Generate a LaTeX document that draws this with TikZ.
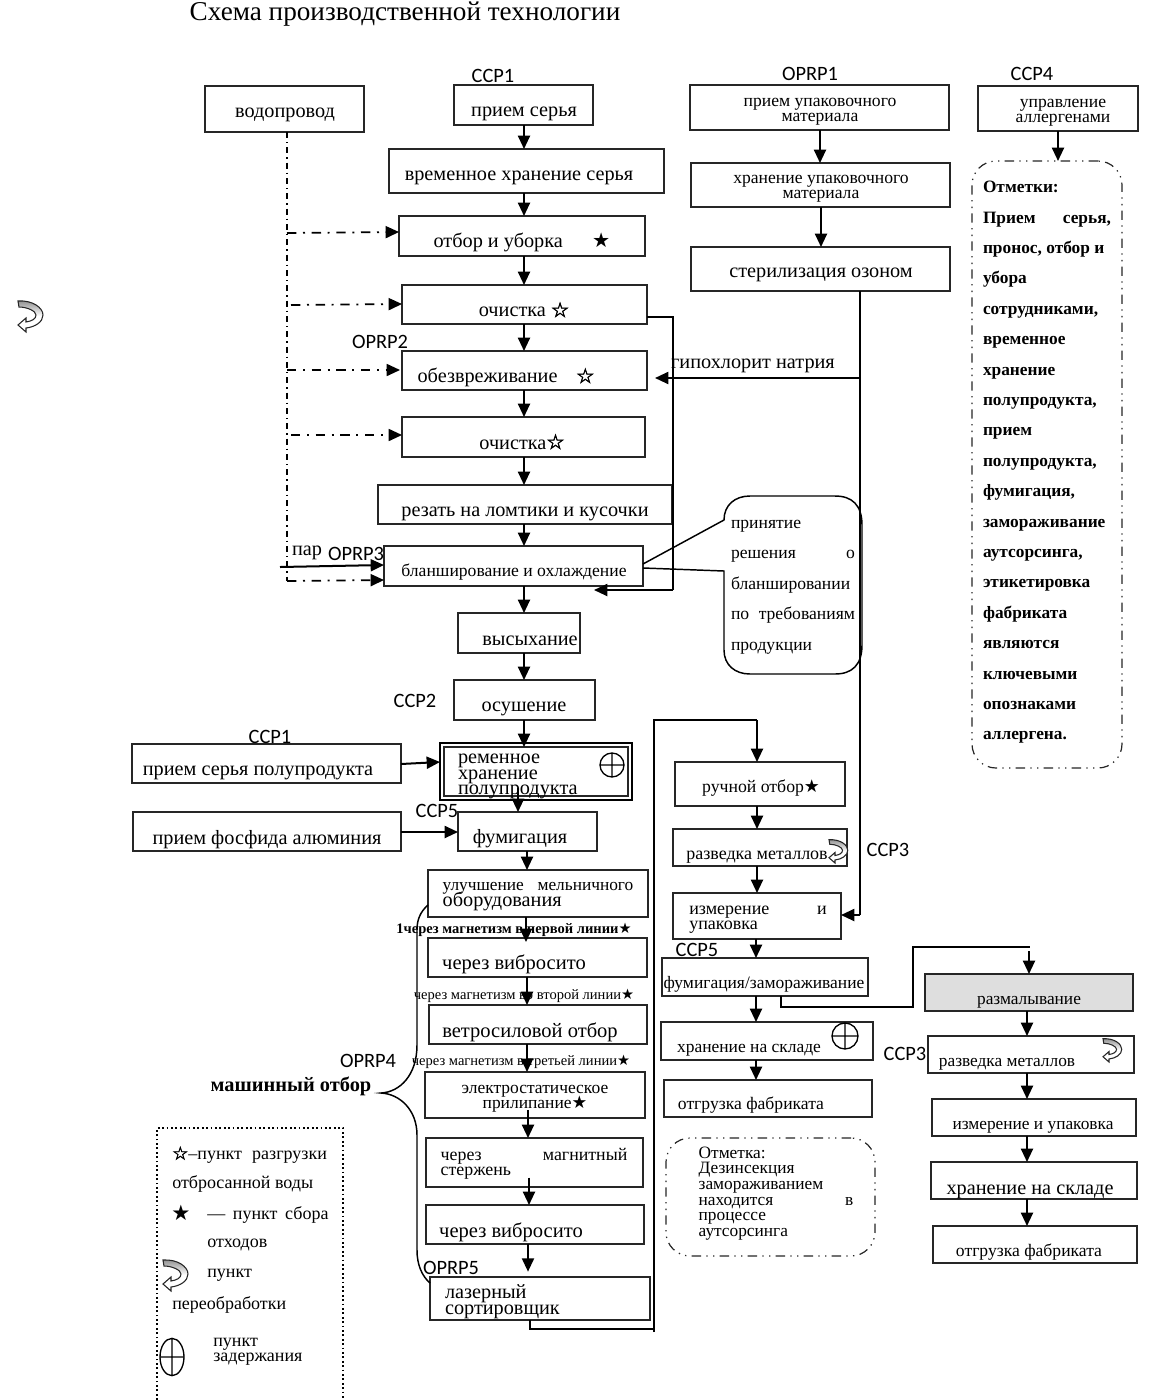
\documentclass[tikz,border=0pt]{standalone}
\usepackage{fontspec}
\setmainfont{Liberation Serif}
\newfontfamily\lab{Carlito}
\newfontfamily\sym{DejaVu Sans}
\newfontfamily\symw[FakeBold=2.5]{DejaVu Sans}
\usetikzlibrary{arrows.meta,calc}
\newcommand\fs[1]{\fontsize{#1pt}{#1pt}\selectfont}
\newcommand\bst{{\sym ★}}
\newcommand\wst{{\symw ☆}}
\newcommand\lns[3][11.6pt]{\parbox[c]{#2}{\setlength{\baselineskip}{#1}\setlength{\lineskiplimit}{-100pt}\setlength{\parindent}{0pt}\setlength{\parfillskip}{0pt plus 1fil}#3}}
\tikzset{
 bx/.style={draw=black!85,line width=1.1pt,inner sep=0pt,outer sep=0pt,font=\fs{15.2},fill=white},
 arr/.style={line width=1.5pt,-{Triangle[length=10pt,width=9pt]}},
 con/.style={line width=1.1pt},
 dd/.style={line width=1.3pt,dash pattern=on 7pt off 5pt on 1.5pt off 5pt},
 ddv/.style={line width=0.8pt,dash pattern=on 4.5pt off 3pt on 1pt off 3pt},
 ddbox/.style={line width=0.9pt,dash pattern=on 7pt off 4pt on 1pt off 4pt on 1pt off 4pt,rounded corners=18pt,fill=none},
 lb/.style={font=\lab\fs{15.3},inner sep=0pt},
 tt/.style={inner sep=0pt,font=\fs{15.2}},
}
% [opts]{name}{x1}{y1}{x2}{y2}{text cx}{text cy}{text}
\newcommand{\bx}[9][]{%
 \pgfmathsetmacro\bw{(#5-#3)*0.75}\pgfmathsetmacro\bh{(#6-#4)*0.75}%
 \pgfmathsetmacro\ddx{(#7-(#3+#5)/2)*0.75}\pgfmathsetmacro\ddy{((#4+#6)/2-#8)*0.75}%
 \node[bx,minimum width=\bw pt,minimum height=\bh pt,#1] (#2) at ({(#3+#5)/2},{(#4+#6)/2})
 {\makebox[0pt][c]{\hspace*{\dimexpr2\dimexpr\ddx pt\relax\relax}\raisebox{\dimexpr\ddy pt-0.22em-1.9pt\relax}[0pt][0pt]{#9}}};}
\newcommand{\bxm}[9][]{%
 \pgfmathsetmacro\bw{(#5-#3)*0.75}\pgfmathsetmacro\bh{(#6-#4)*0.75}%
 \pgfmathsetmacro\ddx{(#7-(#3+#5)/2)*0.75}\pgfmathsetmacro\ddy{((#4+#6)/2-#8)*0.75}%
 \node[bx,minimum width=\bw pt,minimum height=\bh pt,#1] (#2) at ({(#3+#5)/2},{(#4+#6)/2})
 {\makebox[0pt][c]{\hspace*{\dimexpr2\dimexpr\ddx pt\relax\relax}\raisebox{\dimexpr\ddy pt-5.6pt\relax}[0pt][0pt]{#9}}};}
\newcommand{\vc}[4][]{\draw[arr,#1] (#2,0 |- #3.south) -- (#2,0 |- #4.north);}
\newcommand{\tx}[5][]{\node[tt,#1] (#2) at (#3,#4) {#5};}
\newcommand{\cplus}[3]{\draw[line width=1pt] (#1,#2) circle[radius=#3*0.75pt] (#1-#3,#2) -- (#1+#3,#2) (#1,#2-#3) -- (#1,#2+#3);}
\newcommand{\recyc}[3]{\begin{scope}[shift={(#1,#2)},scale=#3]
 \path[draw=black!85,line width=0.8pt,top color=black!45,bottom color=white,middle color=white]
 (-12,-15) .. controls (3,-16) and (13,-8) .. (13,-1) .. controls (13,6) and (5,11) .. (-4,12) -- (-4,16) -- (-12,9) -- (-4,2) -- (-4,6) .. controls (2,5) and (6,3) .. (6,-1) .. controls (6,-5) and (-3,-9) .. (-11,-9) -- cycle;
\end{scope}}
\begin{document}
\begin{tikzpicture}[x=0.75pt,y=-0.75pt]
\useasboundingbox (0,0) rectangle (1172,1400);
\fill[white] (0,0) rectangle (1172,1400);
% title
\tx[font=\fs{20.4}]{title}{405}{14}{Схема производственной технологии}
% left column
\bx{wp}{205}{86}{364}{132}{285}{111}{водопровод}
\bx{pr}{454}{85}{593}{125}{524}{110}{прием серья}
\bx{vr}{389}{149}{664}{193}{519}{174}{временное хранение серья}
\bx{ot}{399}{216}{645}{256}{522}{241}{отбор и уборка\hspace{22pt}\bst}
\bx{oc}{402}{285}{647}{324}{524}{310}{очистка \wst}
\bx{ob}{402}{351}{647}{390}{506}{376}{обезвреживание\hspace{14pt}\wst}
\bx{oc2}{402}{417}{645}{457}{522}{442}{очистка\wst}
\bx{re}{378}{485}{672}{524}{525}{509}{резать на ломтики и кусочки}
\bx[font=\fs{13.2}]{bl}{384}{546}{643}{586}{514}{570}{бланширование и охлаждение}
\bx{vy}{458}{613}{580}{653}{530}{638}{высыхание}
\bx{os}{454}{680}{595}{720}{524}{704}{осушение}
\bx{sp}{132}{744}{401}{783}{258}{768}{прием серья полупродукта}
\draw[line width=1.1pt] (440,743) rectangle (632,800);
\bxm[line width=1.8pt]{hr}{444}{747}{628}{796}{546}{774}{\lns{132pt}{ременное\\хранение\\полупродукта}}
\cplus{612}{765}{12}
\bx{pf}{133}{812}{401}{851}{267}{837}{прием фосфида алюминия}
\bx{fu}{458}{812}{597}{851}{520}{836}{фумигация}
\bxm{ul}{428}{870}{648}{917}{538}{894}{\lns{143pt}{{\fs{13}улучшение \hfill мельничного}\\оборудования}}
\bx[font=\fs{15.4}]{v1}{428}{938}{647}{977}{514}{962}{через вибросито}
\bx[font=\fs{15.4}]{ve}{429}{1005}{647}{1044}{530}{1030}{ветросиловой отбор}
\bxm[font=\fs{13.1}]{el}{425}{1072}{645}{1118}{535}{1095}{\lns{165pt}{\centering электростатическое\\прилипание\bst}}
\bxm[font=\fs{13.4}]{ma}{426}{1138}{643}{1187}{534}{1161}{\lns{140pt}{через \hfill магнитный\\стержень}}
\bx[font=\fs{15.4}]{v2}{426}{1205}{644}{1244}{511}{1230}{через вибросито}
\bxm{la}{430}{1277}{650}{1320}{535}{1299}{\lns{135pt}{лазерный\\сортировщик}}
% right columns
\bxm[font=\fs{13.2}]{pu}{690}{85}{949}{130}{820}{108}{\lns{190pt}{\centering прием упаковочного\\материала}}
\bxm[font=\fs{13.2}]{xu}{691}{163}{950}{207}{821}{185}{\lns{190pt}{\centering хранение упаковочного\\материала}}
\bx{st}{691}{247}{950}{291}{821}{271}{стерилизация озоном}
\bxm[font=\fs{13.2}]{ua}{978}{86}{1138}{131}{1063}{109}{\lns{110pt}{\centering управление\\аллергенами}}
\bxm[ddbox,font=\bfseries\fs{13}]{no}{972}{161}{1122}{768}{1047}{459}{\lns[22.8pt]{96pt}{Отметки:\\Прием \hfill серья,\\пронос, отбор и\\убора\\сотрудниками,\\временное\\хранение\\полупродукта,\\прием\\полупродукта,\\фумигация,\\замораживание\\аутсорсинга,\\этикетировка\\фабриката\\являются\\ключевыми\\опознаками\\аллергена.}}
\bx[font=\fs{13.3}]{ru}{675}{762}{845}{806}{761}{786}{ручной отбор\bst}
\bx[font=\fs{13.5}]{rm}{673}{829}{847}{866}{757}{853}{разведка металлов}
\recyc{838}{851}{0.75}
\bxm[font=\fs{13.5}]{iz}{673}{893}{841}{939}{758}{917}{\lns{103pt}{измерение \hfill и\\упаковка}}
\bx[font=\fs{13.1}]{fz}{662}{958}{868}{996}{764}{982}{фумигация/замораживание}
\bx[font=\fs{13.1}]{xs}{661}{1022}{873}{1060}{749}{1046}{хранение на складе}
\cplus{845}{1036}{13}
\bx[font=\fs{13.2}]{og}{664}{1080}{872}{1117}{751}{1103}{отгрузка фабриката}
\bxm[ddbox,font=\fs{13}]{ds}{666}{1138}{875}{1256}{776}{1190}{\lns[11.7pt]{116pt}{Отметка:\\Дезинсекция\\замораживанием\\находится \hfill в\\процессе\\аутсорсинга}}
\bx[fill=black!13,font=\fs{13}]{rz}{925}{974}{1133}{1011}{1029}{998}{размалывание}
\bx[font=\fs{13}]{r2}{928}{1036}{1134}{1073}{1007}{1060}{разведка металлов}
\recyc{1112}{1050}{0.75}
\bx[font=\fs{13}]{iu}{932}{1099}{1136}{1136}{1033}{1123}{измерение и упаковка}
\bx[font=\fs{15.2}]{x3}{931}{1162}{1137}{1199}{1030}{1187}{хранение на складе}
\bx[font=\fs{13.2}]{o3}{933}{1226}{1137}{1263}{1029}{1250}{отгрузка фабриката}
% labels
\node[lb] (l1) at (493,76) {CCP1};
\node[lb] (l2) at (810,74) {OPRP1};
\node[lb] (l3) at (1032,74) {CCP4};
\node[lb] (l4) at (380,342) {OPRP2};
\node[lb] (l5) at (356,554) {OPRP3};
\tx{par}{307}{553}{пар}
\node[lb] (l6) at (415,701) {CCP2};
\node[lb] (l7) at (270,737) {CCP1};
\node[lb] (l8) at (437,811) {CCP5};
\node[lb] (l9) at (888,850) {CCP3};
\node[lb] (l10) at (697,950) {CCP5};
\node[lb] (l11) at (905,1054) {CCP3};
\node[lb] (l12) at (368,1061) {OPRP4};
\node[lb] (l13) at (451,1268) {OPRP5};
\tx{gip}{753}{366}{гипохлорит натрия}
\tx[font=\bfseries\fs{10.9}]{m1}{514}{930}{1через магнетизм в первой линии\bst}
\tx[font=\fs{10.9}]{m2}{524}{996}{через магнетизм во второй линии\bst}
\tx[font=\fs{10.9}]{m3}{521}{1062}{через магнетизм в третьей линии\bst}
\tx[font=\bfseries\fs{15.3}]{mo}{291}{1086}{машинный отбор}
% arrows
\vc{524}{pr}{vr}\vc{524}{vr}{ot}\vc{524}{ot}{oc}\vc{524}{oc}{ob}\vc{524}{ob}{oc2}\vc{524}{oc2}{re}\vc{524}{re}{bl}\vc{524}{bl}{vy}\vc{524}{vy}{os}\vc{524}{os}{hr}
\vc[shorten <=-6pt]{518}{hr}{fu}
\vc{527}{fu}{ul}\vc[shorten >=-3pt]{526}{ul}{v1}\vc{527}{v1}{ve}\vc{527}{ve}{el}
\vc[shorten <=-6pt]{528}{el}{ma}
\vc[shorten <=-7pt]{529}{ma}{v2}
\vc[shorten >=4pt]{528}{v2}{la}
\vc{820}{pu}{xu}\vc{821}{xu}{st}\vc{1058}{ua}{no}
\vc{757}{ru}{rm}\vc{757}{rm}{iz}\vc{756}{iz}{fz}\vc{756}{fz}{xs}\vc{756}{xs}{og}
\vc{1027}{rz}{r2}\vc{1027}{r2}{iu}\vc{1027}{iu}{x3}\vc{1027}{x3}{o3}
\draw[arr] (sp.east |- 0,764) -- (440,762);
\draw[arr] (pf.east |- 0,832) -- (fu.west |- 0,832);
% water dash-dot
\draw[ddv] (287,0 |- wp.south) -- (287,581);
\draw[dd,-{Triangle[length=10pt,width=9pt]}] (287,233) -- (ot.west |- 0,232);
\draw[dd,-{Triangle[length=10pt,width=9pt]}] (291,305) -- (oc.west |- 0,304);
\draw[dd,-{Triangle[length=10pt,width=9pt]}] (287,370) -- ($(ob.west |- 0,370)+(-2,0)$);
\draw[dd,-{Triangle[length=10pt,width=9pt]}] (291,435) -- (oc2.west |- 0,435);
\draw[dd,-{Triangle[length=10pt,width=9pt]}] (287,581) -- (bl.west |- 0,580);
\draw[arr] (280,567) -- (bl.west |- 0,565);
% right return lines
\draw[con] (oc.east |- 0,317) -- (673,317) -- (673,590);
\draw[arr] (673,590) -- (594,590);
\draw[con] (860,0 |- st.south) -- (860,915);
\draw[arr] (860,915) -- (iz.east |- 0,915);
\draw[arr] (860,378) -- (655,378);
% callout
\draw[con] (bl.east |- 0,564) -- (724,520) .. controls (724,505) and (735,496) .. (750,496) -- (835,496) .. controls (852,496) and (862,505) .. (862,525) -- (862,645) .. controls (862,665) and (852,674) .. (835,674) -- (750,674) .. controls (735,674) and (724,665) .. (724,650) -- (724,571) -- (bl.east |- 0,568);
\tx[font=\fs{13.2}]{dec}{793}{587}{\lns[22.8pt]{93pt}{принятие\\решения \hfill о\\бланшировании\\по \hfill требованиям\\продукции}}
% long connectors
\draw[con] (530,0 |- la.south) -- (530,1329) -- (654,1329);
\draw[con] (654,1332) -- (654,720) -- (757,720);
\draw[arr] (757,720) -- (757,0 |- ru.north);
\draw[con] (781,0 |- fz.south) -- (781,1007) -- (913,1007) -- (913,947) -- (1030,947);
\draw[arr] (1029,951) -- (1029,0 |- rz.north);
% brace
\coordinate (br) at (381,1093);
\draw[con] (ul.west |- 0,905) .. controls (420,912) and (417,920) .. (417,930) -- (417,1045) .. controls (417,1075) and (400,1092) .. (br) .. controls (400,1094) and (417,1110) .. (417,1135) -- (417,1250) .. controls (417,1265) and (422,1276) .. (la.west |- 0,1283);
% legend
\draw[line width=1.3pt,dotted] (157,1400) -- (157,1128) -- (343,1128) -- (343,1400);
\tx[anchor=west,font=\fs{13.5}]{k1}{172}{1155}{\makebox[116pt][s]{\wst{}--пункт\hfill разгрузки}}
\tx[anchor=west,font=\fs{13.5}]{k2}{172}{1184}{отбросанной воды}
\tx[anchor=center,font=\fs{16}]{k3s}{181}{1213}{\bst}
\tx[anchor=west,font=\fs{13.5}]{k3}{207}{1215}{\makebox[91pt][s]{—\hfill пункт\hfill сбора}}
\tx[anchor=west,font=\fs{13.5}]{k4}{207}{1245}{отходов}
\recyc{175}{1275}{1}
\tx[anchor=west,font=\fs{13.5}]{k5}{207}{1275}{пункт}
\tx[anchor=west,font=\fs{13.5}]{k6}{172}{1305}{переобработки}
\draw[line width=1pt] (172,1357) ellipse[x radius=9pt,y radius=14pt] (160,1357) -- (184,1357) (172,1338) -- (172,1376);
\tx[anchor=west,font=\fs{13.5}]{k7}{213}{1352}{\lns{70pt}{пункт\\задержания}}
% left icon
\recyc{30}{316}{1}
\end{tikzpicture}
\end{document}
